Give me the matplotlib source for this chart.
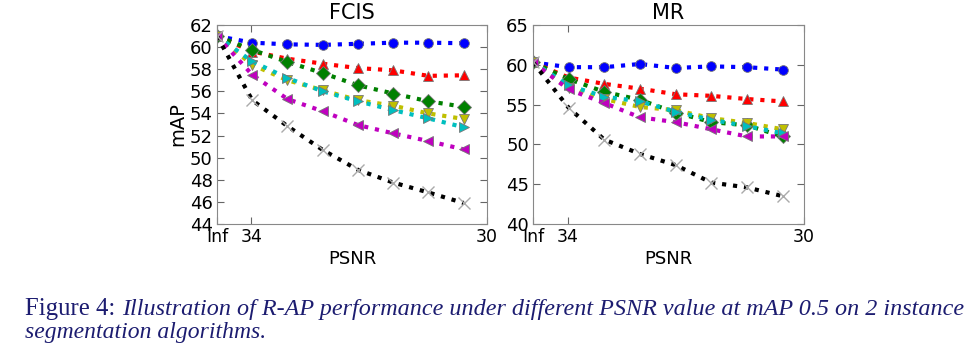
import matplotlib
matplotlib.use('Agg')
import matplotlib.pyplot as plt

# x positions: Inf, then 7 decreasing PSNR levels down to 30
levels = [0, 1, 2, 3, 4, 5, 6, 7]
tick_pos = [0, 0.97]
tick_labels = ['Inf', '34']

fcis_blue = [61.0, 60.4, 60.25, 60.2, 60.3, 60.4, 60.4, 60.35]
fcis_red = [61.0, 59.6, 58.95, 58.5, 58.1, 57.9, 57.4, 57.45]
fcis_green = [61.0, 59.75, 58.65, 57.65, 56.55, 55.8, 55.1, 54.6]
fcis_yellow = [61.0, 58.4, 57.0, 56.1, 55.2, 54.7, 54.0, 53.5]
fcis_cyan = [61.0, 58.7, 57.2, 56.0, 55.1, 54.3, 53.55, 52.75]
fcis_magenta = [61.0, 57.5, 55.3, 54.2, 52.95, 52.2, 51.5, 50.75]
fcis_black = [61.0, 55.2, 52.85, 50.7, 48.9, 47.75, 46.85, 45.9]

mr_blue = [60.3, 59.7, 59.7, 60.1, 59.6, 59.8, 59.7, 59.4]
mr_red = [60.3, 58.4, 57.6, 57.0, 56.3, 56.1, 55.7, 55.4]
mr_green = [60.3, 58.2, 56.6, 55.6, 54.0, 52.8, 52.4, 51.0]
mr_yellow = [60.3, 57.1, 55.7, 54.7, 54.3, 53.3, 52.7, 51.9]
mr_cyan = [60.3, 57.4, 56.0, 55.4, 54.1, 53.1, 52.3, 51.4]
mr_magenta = [60.3, 56.9, 55.2, 53.4, 52.8, 51.9, 51.0, 51.0]
mr_black = [60.3, 54.6, 50.6, 48.8, 47.4, 45.2, 44.6, 43.5]

styles = [('b', 'o'), ('r', '^'), ('g', 'D'), ('y', 'v'), ('c', '>'), ('m', '<'), ('k', 'x')]

plt.rcParams['font.family'] = ['DejaVu Sans']
plt.rcParams['font.size'] = 13

fig = plt.figure(figsize=(9.8, 3.55), dpi=100)

panels = [
    ('FCIS', [fcis_blue, fcis_red, fcis_green, fcis_yellow, fcis_cyan, fcis_magenta, fcis_black],
     [0.2214, 0.369, 0.2755, 0.5606], (44, 62), range(44, 63, 2), 7.66),
    ('MR', [mr_blue, mr_red, mr_green, mr_yellow, mr_cyan, mr_magenta, mr_black],
     [0.5439, 0.369, 0.2765, 0.5606], (40, 65), range(40, 66, 5), 7.6),
]

for i, (title, series, rect, ylim, yticks, xmax) in enumerate(panels):
    ax = fig.add_axes(rect)
    for vals, (c, m) in zip(series, styles):
        if m == 'x':
            ax.plot(levels, vals, ':', color=c, lw=3, marker=m, ms=8, mec='#aaaaaa', mew=1.0)
        else:
            ms = 7.5 if m == 'D' else 7
            ax.plot(levels, vals, ':', color=c, lw=3, marker=m, ms=ms, mec='#777777', mew=0.6)
    ax.set_xlim(0, xmax)
    ax.set_ylim(*ylim)
    ax.set_yticks(list(yticks))
    ax.set_xticks(tick_pos + [xmax])
    ax.set_xticklabels(tick_labels + ['30'])
    ax.tick_params(direction='in', top=True, right=True, length=5, color='#666666', labelsize=13, pad=3)
    ax.tick_params(axis='x', labelsize=12.5)
    for s in ax.spines.values():
        s.set_color('#888888')
    ax.set_title(title, fontsize=15, pad=4)
    ax.set_xlabel('PSNR', fontsize=13, labelpad=3)
    if i == 0:
        ax.set_ylabel('mAP', fontsize=14, labelpad=2)

cap_color = '#1c1c70'
t1 = fig.text(25 / 980, 1 - 315 / 355, 'Figure 4:', family='Liberation Serif', fontsize=17.8,
              color=cap_color, va='baseline')
fig.canvas.draw()
bb = t1.get_window_extent()
x2 = (bb.x1 + 7) / fig.bbox.width
fig.text(x2, 1 - 315 / 355,
         'Illustration of R-AP performance under different PSNR value at mAP 0.5 on 2 instance',
         family='Liberation Serif', style='italic', fontsize=17.4, color=cap_color, va='baseline')
fig.text(25 / 980, 1 - 338 / 355, 'segmentation algorithms.', family='Liberation Serif', style='italic',
         fontsize=17, color=cap_color, va='baseline')

fig.savefig('out.png', dpi=100)
